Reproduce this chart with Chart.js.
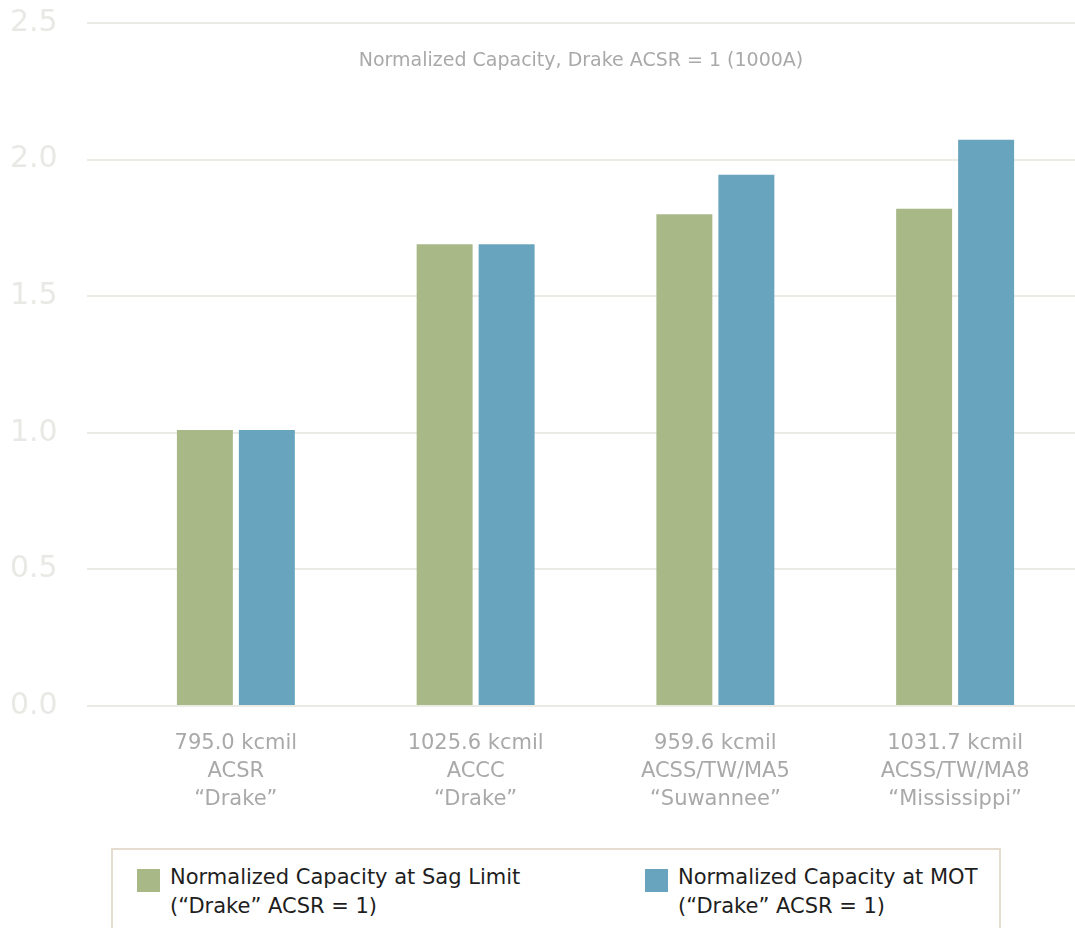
<!DOCTYPE html>
<html>
<head>
<meta charset="utf-8">
<script src="https://cdn.jsdelivr.net/npm/chart.js@4/dist/chart.umd.min.js"></script>
<style>
    body { margin: 0; background: #fff; width: 1075px; height: 928px; overflow: hidden; position: relative; }
    #chart { position: absolute; left: 0; top: 0; }
    #legend {
        position: absolute; left: 111px; top: 848px; width: 890px; height: 100px;
        border: 2px solid #e6ddd0; box-sizing: border-box;
        font-family: "DejaVu Sans", sans-serif; font-size: 21px; line-height: 29px; color: #1e1e1e;
    }
    .item { position: absolute; top: 13px; }
    .swatch { position: absolute; left: 0; top: 6px; width: 23px; height: 23px; }
    .text { position: absolute; left: 33px; white-space: nowrap; }
</style>
</head>
<body>
<canvas id="chart" width="1075" height="840"></canvas>
<div id="legend"></div>
<script>
// Chart data
const categories = [
    ['795.0 kcmil', 'ACSR', '\u201cDrake\u201d'],
    ['1025.6 kcmil', 'ACCC', '\u201cDrake\u201d'],
    ['959.6 kcmil', 'ACSS/TW/MA5', '\u201cSuwannee\u201d'],
    ['1031.7 kcmil', 'ACSS/TW/MA8', '\u201cMississippi\u201d']
];
const sagLimitValues = [1.01, 1.69, 1.80, 1.82];
const motValues = [1.01, 1.69, 1.945, 2.073];
const seriesNames = [
    ['Normalized Capacity at Sag Limit', '(\u201cDrake\u201d ACSR = 1)'],
    ['Normalized Capacity at MOT', '(\u201cDrake\u201d ACSR = 1)']
];
const seriesColors = ['#a8b887', '#69a4bf'];
const yTicks = [0, 0.5, 1.0, 1.5, 2.0, 2.5];
const chartTitle = 'Normalized Capacity, Drake ACSR = 1 (1000A)';

// Title drawn inside the plot area
const innerTitle = {
    id: 'innerTitle',
    afterDraw(chart) {
        const { ctx, chartArea, scales } = chart;
        ctx.save();
        ctx.font = '19px "DejaVu Sans"';
        ctx.fillStyle = '#a9a9a9';
        ctx.textAlign = 'center';
        ctx.textBaseline = 'middle';
        const x = (chartArea.left - 29 + chart.width) / 2;
        ctx.fillText(chartTitle, x, scales.y.getPixelForValue(2.36));
        ctx.restore();
    }
};

new Chart(document.getElementById('chart'), {
    type: 'bar',
    data: {
        labels: categories,
        datasets: [
            { label: seriesNames[0].join(' '), data: sagLimitValues, backgroundColor: seriesColors[0] },
            { label: seriesNames[1].join(' '), data: motValues, backgroundColor: seriesColors[1] }
        ]
    },
    options: {
        responsive: false,
        animation: false,
        devicePixelRatio: 1,
        categoryPercentage: 0.517,
        barPercentage: 0.903,
        layout: { padding: { left: 10, right: 0, top: 23, bottom: 0 } },
        plugins: {
            legend: { display: false },
            tooltip: { enabled: false }
        },
        scales: {
            x: {
                grid: { display: false, drawTicks: false },
                border: { display: false },
                ticks: {
                    color: '#a9a9a9',
                    padding: 24,
                    font: { family: 'DejaVu Sans', size: 21, lineHeight: 1.333 },
                    maxRotation: 0
                },
                afterFit(scale) { scale.height = 134; }
            },
            y: {
                min: 0,
                max: 2.5,
                afterBuildTicks(scale) { scale.ticks = yTicks.map(v => ({ value: v })); },
                grid: { color: '#ebebe6', lineWidth: 2, tickLength: 29, tickColor: '#ebebe6', tickWidth: 2 },
                border: { display: false },
                ticks: {
                    color: '#e8e8e4',
                    crossAlign: 'far',
                    font: { family: 'DejaVu Sans', size: 30 },
                    callback: v => v.toFixed(1)
                },
                afterFit(scale) { scale.width = 106; }
            }
        }
    },
    plugins: [innerTitle]
});

// HTML legend with two-line labels
const legendEl = document.getElementById('legend');
const itemLefts = [24, 532];
seriesNames.forEach((lines, i) => {
    const item = document.createElement('div');
    item.className = 'item';
    item.style.left = itemLefts[i] + 'px';
    const sw = document.createElement('div');
    sw.className = 'swatch';
    sw.style.backgroundColor = seriesColors[i];
    const txt = document.createElement('div');
    txt.className = 'text';
    txt.innerHTML = lines.join('<br>');
    item.appendChild(sw);
    item.appendChild(txt);
    legendEl.appendChild(item);
});
</script>
</body>
</html>
